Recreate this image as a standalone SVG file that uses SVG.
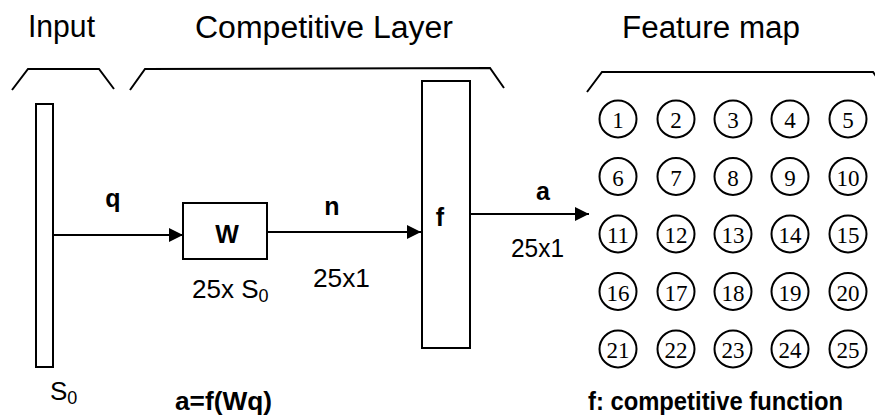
<svg xmlns="http://www.w3.org/2000/svg" width="875" height="417" viewBox="0 0 875 417">
<style>
.ln{fill:none;stroke:#000;stroke-width:2}
.box{fill:#fff;stroke:#000;stroke-width:2}
.t{font-family:"Liberation Sans",Arial,sans-serif;fill:#000}
.title{font-size:31px}
.lab{font-size:26px}
.b{font-weight:bold;font-size:25px}
.num{font-family:"Liberation Serif","Times New Roman",serif;font-size:23px;text-anchor:middle}
.c{fill:#fff;stroke:#000;stroke-width:2}
</style>
<defs>
<marker id="ah" markerWidth="14" markerHeight="14" refX="14" refY="7" orient="auto" markerUnits="userSpaceOnUse">
<path d="M0,0 L14,7 L0,14 Z" fill="#000"/>
</marker>
</defs>
<rect width="875" height="417" fill="#fff"/>
<g id="titles">
<text class="t title" x="28" y="37" textLength="67" lengthAdjust="spacingAndGlyphs">Input</text>
<text class="t title" x="195" y="38" textLength="258" lengthAdjust="spacingAndGlyphs">Competitive Layer</text>
<text class="t title" x="622" y="38" textLength="178" lengthAdjust="spacingAndGlyphs">Feature map</text>
<polyline class="ln" points="12,90 28,69 99,69 114,89"/>
<polyline class="ln" points="130,90 145,69 490,68 504,88"/>
<polyline class="ln" points="587,92 602,72 873,72 880,82"/>
</g>
<g id="connectors">
<line class="ln" x1="53" y1="235" x2="183" y2="235" marker-end="url(#ah)"/>
<line class="ln" x1="267" y1="232" x2="421" y2="232" marker-end="url(#ah)"/>
<line class="ln" x1="470" y1="214" x2="589" y2="214" marker-end="url(#ah)"/>
<text class="t b" x="113" y="207" text-anchor="middle">q</text>
<text class="t b" x="332" y="215" text-anchor="middle">n</text>
<text class="t b" x="543" y="200" text-anchor="middle">a</text>
<text class="t lab" x="313" y="287" textLength="57" lengthAdjust="spacingAndGlyphs">25x1</text>
<text class="t lab" x="511" y="257" textLength="53" lengthAdjust="spacingAndGlyphs">25x1</text>
</g>
<g id="input">
<rect class="box" x="36" y="104" width="17" height="263"/>
<text class="t lab" x="50" y="400">S<tspan font-size="18" dy="4">0</tspan></text>
</g>
<g id="weights">
<rect class="box" x="183" y="203" width="84" height="56"/>
<text class="t b" x="227" y="243" text-anchor="middle" font-size="26">W</text>
<text class="t lab" x="192" y="298">25x S<tspan font-size="18" dy="4">0</tspan></text>
</g>
<g id="transfer">
<rect class="box" x="422" y="81" width="48" height="267"/>
<text class="t b" x="440" y="226" text-anchor="middle">f</text>
</g>
<g id="feature-map">
<circle class="c" cx="618" cy="119" r="18.5"/><text class="num" x="618" y="128">1</text>
<circle class="c" cx="676" cy="119" r="18.5"/><text class="num" x="676" y="128">2</text>
<circle class="c" cx="733" cy="119" r="18.5"/><text class="num" x="733" y="128">3</text>
<circle class="c" cx="790" cy="119" r="18.5"/><text class="num" x="790" y="128">4</text>
<circle class="c" cx="848" cy="119" r="18.5"/><text class="num" x="848" y="128">5</text>
<circle class="c" cx="618" cy="176.5" r="18.5"/><text class="num" x="618" y="186">6</text>
<circle class="c" cx="676" cy="176.5" r="18.5"/><text class="num" x="676" y="186">7</text>
<circle class="c" cx="733" cy="176.5" r="18.5"/><text class="num" x="733" y="186">8</text>
<circle class="c" cx="790" cy="176.5" r="18.5"/><text class="num" x="790" y="186">9</text>
<circle class="c" cx="848" cy="176.5" r="18.5"/><text class="num" x="848" y="186">10</text>
<circle class="c" cx="618" cy="234" r="18.5"/><text class="num" x="618" y="243">11</text>
<circle class="c" cx="676" cy="234" r="18.5"/><text class="num" x="676" y="243">12</text>
<circle class="c" cx="733" cy="234" r="18.5"/><text class="num" x="733" y="243">13</text>
<circle class="c" cx="790" cy="234" r="18.5"/><text class="num" x="790" y="243">14</text>
<circle class="c" cx="848" cy="234" r="18.5"/><text class="num" x="848" y="243">15</text>
<circle class="c" cx="618" cy="291.5" r="18.5"/><text class="num" x="618" y="301">16</text>
<circle class="c" cx="676" cy="291.5" r="18.5"/><text class="num" x="676" y="301">17</text>
<circle class="c" cx="733" cy="291.5" r="18.5"/><text class="num" x="733" y="301">18</text>
<circle class="c" cx="790" cy="291.5" r="18.5"/><text class="num" x="790" y="301">19</text>
<circle class="c" cx="848" cy="291.5" r="18.5"/><text class="num" x="848" y="301">20</text>
<circle class="c" cx="618" cy="349" r="18.5"/><text class="num" x="618" y="358">21</text>
<circle class="c" cx="676" cy="349" r="18.5"/><text class="num" x="676" y="358">22</text>
<circle class="c" cx="733" cy="349" r="18.5"/><text class="num" x="733" y="358">23</text>
<circle class="c" cx="790" cy="349" r="18.5"/><text class="num" x="790" y="358">24</text>
<circle class="c" cx="848" cy="349" r="18.5"/><text class="num" x="848" y="358">25</text>
</g>
<g id="notes">
<text class="t b" x="175" y="410" textLength="97" lengthAdjust="spacingAndGlyphs">a=f(Wq)</text>
<text class="t b" x="588" y="410" textLength="255" lengthAdjust="spacingAndGlyphs">f: competitive function</text>
</g>
</svg>
